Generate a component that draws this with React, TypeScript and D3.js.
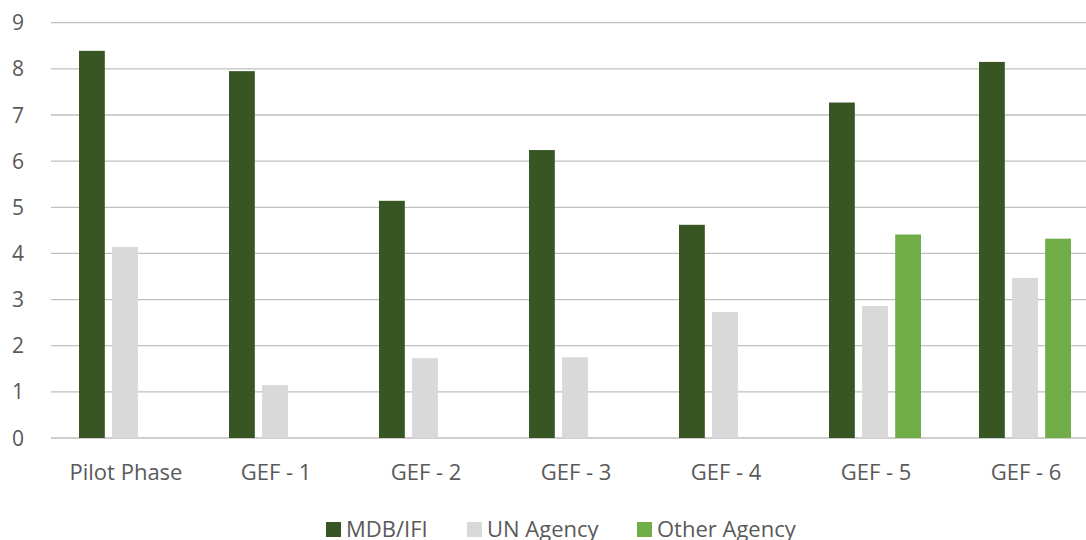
import React, { useRef, useEffect } from "react";
import * as d3 from "d3";

// chart data
const categories = ["Pilot Phase", "GEF - 1", "GEF - 2", "GEF - 3", "GEF - 4", "GEF - 5", "GEF - 6"];
const seriesNames = ["MDB/IFI", "UN Agency", "Other Agency"];
const mdbValues = [8.39, 7.95, 5.14, 6.24, 4.62, 7.27, 8.15];
const unValues = [4.14, 1.15, 1.73, 1.75, 2.73, 2.86, 3.47];
const otherValues = [0, 0, 0, 0, 0, 4.41, 4.32];
const yTicks = [0, 1, 2, 3, 4, 5, 6, 7, 8, 9];

const colors = ["#375623", "#D9D9D9", "#70AD47"];
const FONT = "'Open Sans', 'Liberation Sans', sans-serif";

const App = () => {
  const container = useRef<SVGSVGElement>(null);

  const width = 1086;
  const height = 540;

  useEffect(() => {
    const svg = d3.select(container.current);
    svg.selectAll("*").remove();

    const left = 51;
    const right = 1101;
    const top = 22.7;
    const bottom = 438;

    const x = d3.scaleBand().domain(categories).range([left, right]).paddingInner(0).paddingOuter(0);
    const xInner = d3.scaleBand().domain(seriesNames).range([28, 120]).paddingInner(0.22);
    const y = d3.scaleLinear().domain([0, 9]).range([bottom, top]);

    // gridlines
    svg
      .append("g")
      .selectAll("line")
      .data(yTicks)
      .enter()
      .append("line")
      .attr("x1", left)
      .attr("x2", right)
      .attr("y1", (d) => y(d))
      .attr("y2", (d) => y(d))
      .attr("stroke", "#BFBFBF")
      .attr("stroke-width", 1.3);

    // y labels
    svg
      .append("g")
      .selectAll("text")
      .data(yTicks)
      .enter()
      .append("text")
      .attr("x", 24)
      .attr("y", (d) => y(d))
      .attr("dy", "0.36em")
      .attr("text-anchor", "end")
      .style("font-family", FONT)
      .style("font-size", "21px")
      .style("fill", "#595959")
      .text((d) => d);

    // bars
    const seriesValues = [mdbValues, unValues, otherValues];
    seriesNames.forEach((name, si) => {
      svg
        .append("g")
        .attr("fill", colors[si])
        .selectAll("rect")
        .data(categories.map((c, i) => ({ c, v: seriesValues[si][i] })).filter((d) => d.v > 0))
        .enter()
        .append("rect")
        .attr("x", (d) => (x(d.c) as number) + (xInner(name) as number))
        .attr("y", (d) => y(d.v))
        .attr("width", xInner.bandwidth())
        .attr("height", (d) => y(0) - y(d.v));
    });

    // x labels
    svg
      .append("g")
      .selectAll("text")
      .data(categories)
      .enter()
      .append("text")
      .attr("x", (d) => (x(d) as number) + x.bandwidth() / 2)
      .attr("y", 480)
      .attr("text-anchor", "middle")
      .style("font-family", FONT)
      .style("font-size", "22px")
      .style("fill", "#595959")
      .text((d) => d);

    // legend
    const legendX = [326, 467, 637];
    const legend = svg.append("g");
    seriesNames.forEach((name, i) => {
      legend
        .append("rect")
        .attr("x", legendX[i])
        .attr("y", 522)
        .attr("width", 15)
        .attr("height", 15)
        .attr("fill", colors[i]);
      legend
        .append("text")
        .attr("x", legendX[i] + 20)
        .attr("y", 537)
        .style("font-family", FONT)
        .style("font-size", "22px")
        .style("fill", "#595959")
        .text(name);
    });
  }, []);

  return (
    <svg
      ref={container}
      width={width}
      height={height}
      style={{ position: "absolute", left: 0, top: 0, background: "#fff" }}
    />
  );
};

export default App;
